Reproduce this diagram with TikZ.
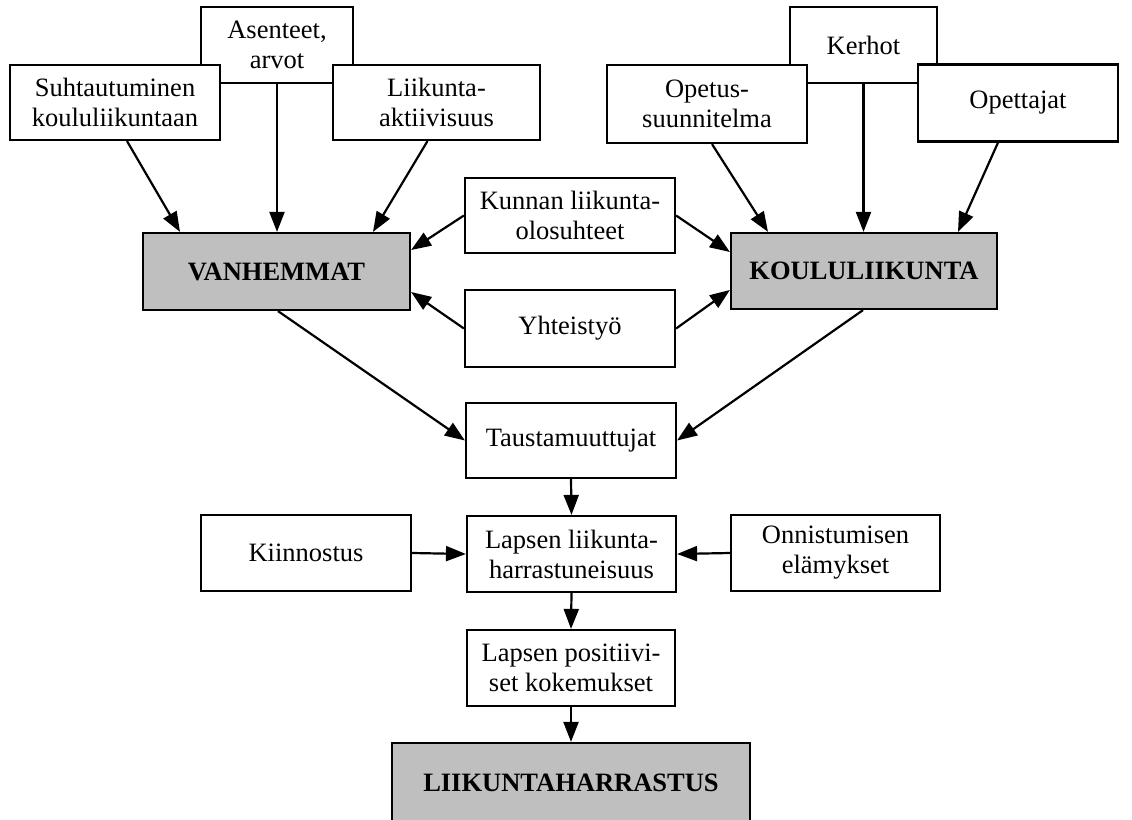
\documentclass[tikz,border=0pt]{standalone}
\usepackage{fontspec}
\setmainfont{Liberation Serif}
\usetikzlibrary{arrows.meta}
\begin{document}
\begin{tikzpicture}[x=1pt,y=-1pt,
  box/.style={draw, line width=2.2pt, fill=white, align=center, inner sep=0pt,
    font=\fontsize{26.5}{30}\selectfont},
  hbox/.style={box, fill=black!25, font=\fontsize{26.5}{30}\selectfont\bfseries},
  arr/.style={line width=2.2pt, -{Triangle[length=20pt,width=15pt]}}]
\clip (0,0) rectangle (1132,819);
\fill[white] (0,0) rectangle (1132,819);
% back boxes
\node[box, minimum width=152pt, minimum height=76pt] (asen) at (277,45) {Asenteet,\\arvot};
\node[box, minimum width=147pt, minimum height=76pt] (kerh) at (863.5,45) {Kerhot};
% top row
\node[box, minimum width=210pt, minimum height=75pt] (suht) at (115,102.5) {Suhtautuminen\\koululiikuntaan};
\node[box, minimum width=207pt, minimum height=75pt] (liik) at (436.5,102.5) {Liikunta-\\aktiivisuus};
\node[box, minimum width=200pt, minimum height=78pt] (opet) at (707,104) {Opetus-\\suunnitelma};
\node[box, minimum width=200pt, minimum height=77pt] (opett) at (1018,103) {Opettajat};
% main
\node[hbox, minimum width=267pt, minimum height=77pt] (vanh) at (276.5,271.5) {VANHEMMAT};
\node[hbox, minimum width=266pt, minimum height=76pt] (koulu) at (864,271) {KOULULIIKUNTA};
\node[box, minimum width=210pt, minimum height=75pt] (kunnan) at (570,215.5) {Kunnan liikunta-\\olosuhteet};
\node[box, minimum width=210pt, minimum height=77pt] (yht) at (570,328.5) {Yhteistyö};
\node[box, minimum width=210pt, minimum height=75pt] (taust) at (571,440.5) {Taustamuuttujat};
\node[box, minimum width=209pt, minimum height=76pt] (lapsen) at (571.5,554) {Lapsen liikunta-\\harrastuneisuus};
\node[box, minimum width=210pt, minimum height=76pt] (kiinn) at (306,553) {Kiinnostus};
\node[box, minimum width=209pt, minimum height=76pt] (onn) at (835.5,553) {Onnistumisen\\elämykset};
\node[box, minimum width=208pt, minimum height=76pt] (posit) at (571,668) {Lapsen positiivi-\\set kokemukset};
\node[hbox, minimum width=358pt, minimum height=80pt] (liikh) at (571,783) {LIIKUNTAHARRASTUS};
% arrows
\draw[arr] ([xshift=12pt]suht.south) -- ([xshift=-96.5pt]vanh.north);
\draw[arr] (asen.south) -- (asen.south |- vanh.north);
\draw[arr] ([xshift=-9pt]liik.south) -- ([xshift=96.5pt]vanh.north);
\draw[arr] ([xshift=5pt]opet.south) -- ([xshift=-96pt]koulu.north);
\draw[arr] (kerh.south) -- (kerh.south |- koulu.north);
\draw[arr] ([xshift=-20pt]opett.south) -- ([xshift=94pt]koulu.north);
\draw[arr] (kunnan.west) -- ([yshift=21.5pt]vanh.east);
\draw[arr] (kunnan.east) -- ([yshift=19pt]koulu.west);
\draw[arr] (yht.west) -- ([yshift=-20.5pt]vanh.east);
\draw[arr] (yht.east) -- ([yshift=-19pt]koulu.west);
\draw[arr] ([xshift=1.5pt]vanh.south) -- (taust.west);
\draw[arr] ([xshift=-1pt]koulu.south) -- (taust.east);
\draw[arr] (taust.south) -- (lapsen.north);
\draw[arr] (kiinn.east) -- (lapsen.west);
\draw[arr] (onn.west) -- (lapsen.east);
\draw[arr] (lapsen.south) -- (posit.north);
\draw[arr] (posit.south) -- (liikh.north);
\end{tikzpicture}
\end{document}
